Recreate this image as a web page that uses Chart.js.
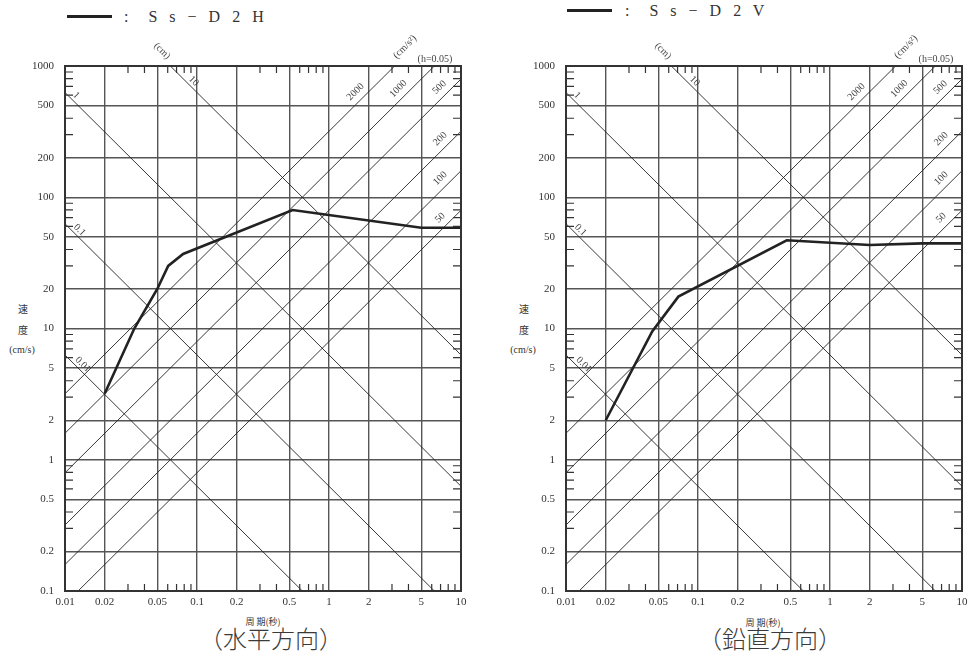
<!DOCTYPE html>
<html>
<head>
<meta charset="utf-8">
<script src="https://cdn.jsdelivr.net/npm/chart.js@4/dist/chart.umd.min.js"></script>
<style>
  html, body { margin: 0; padding: 0; background: #fff; overflow: hidden; }
  body { width: 968px; height: 657px; position: relative; }
  .panel { position: absolute; top: 0; width: 484px; height: 657px; }
  .panel canvas { position: absolute; left: 0; top: 0; }
  .txt { position: absolute; white-space: nowrap; color: #333; transform: translate(-50%, -50%); }
  .legline { position: absolute; width: 45px; border-top: 3px solid #222; }
  .legtxt { position: absolute; font: 16px "Liberation Serif", serif; letter-spacing: 4px; color: #333; transform: translateY(-50%); white-space: pre; }
  .jp { font-family: "Noto Sans CJK JP", sans-serif; }
  .sub { font-weight: 300; color: #3a3a3a; }
  .serif { font-family: "Liberation Serif", serif; }
</style>
</head>
<body>
<div class="panel" id="panelH" style="left:0">
  <div class="legline" style="left:67px;top:15px"></div>
  <div class="legtxt" style="left:124px;top:17px">:  S s − D 2 H</div>
  <div class="txt jp" style="left:23px;top:308px;font-size:10px">速</div>
  <div class="txt jp" style="left:23px;top:329px;font-size:10px">度</div>
  <div class="txt serif" style="left:22px;top:349px;font-size:10px">(cm/s)</div>
  <div class="txt jp" style="left:263px;top:621px;font-size:9px">周 期(秒)</div>
  <div class="txt jp sub" style="left:271px;top:637px;font-size:24px">（水平方向）</div>
  <canvas id="chartH"></canvas>
</div>
<div class="panel" id="panelV" style="left:501px">
  <div class="legline" style="left:66px;top:9px"></div>
  <div class="legtxt" style="left:124px;top:11px">:  S s − D 2 V</div>
  <div class="txt jp" style="left:23px;top:308px;font-size:10px">速</div>
  <div class="txt jp" style="left:23px;top:329px;font-size:10px">度</div>
  <div class="txt serif" style="left:22px;top:349px;font-size:10px">(cm/s)</div>
  <div class="txt jp" style="left:262px;top:622px;font-size:9px">周 期(秒)</div>
  <div class="txt jp sub" style="left:269px;top:637px;font-size:24px">（鉛直方向）</div>
  <canvas id="chartV"></canvas>
</div>
<script>
// axis ticks
const periodTicks = [0.01, 0.02, 0.05, 0.1, 0.2, 0.5, 1, 2, 5, 10];
const velocityTicks = [0.1, 0.2, 0.5, 1, 2, 5, 10, 20, 50, 100, 200, 500, 1000];
const minorSteps = [3, 4, 6, 7, 8, 9];

// tripartite guide lines: displacement (cm) and acceleration (cm/s2)
const dispLines = [0.01, 0.1, 1, 10];
const accLines = [50, 100, 200, 500, 1000, 2000];
// period where each guide label sits
const dispLabelAt = [0.0127, 0.012, 0.0113, 0.088];
const accLabelAt = [7.8, 7.8, 7.8, 7.7, 3.76, 1.78];

// Ss-D2H (horizontal)
const periodH = [0.02, 0.0335, 0.05, 0.0605, 0.0785, 0.53, 5, 10];
const velocityH = [3.2, 10, 20, 30, 37, 80, 58.5, 58.5];

// Ss-D2V (vertical)
const periodV = [0.02, 0.045, 0.071, 0.47, 2, 5, 10];
const velocityV = [2.0, 9.5, 17.5, 47, 43.3, 44.5, 44.5];

const TWO_PI = 2 * Math.PI;
const tMin = periodTicks[0], tMax = periodTicks[periodTicks.length - 1];

function guideDatasets() {
    const sets = [];
    dispLines.forEach(function (d) {
        sets.push({
            data: [{x: tMin, y: TWO_PI * d / tMin}, {x: tMax, y: TWO_PI * d / tMax}],
            borderColor: '#222', borderWidth: 0.9, pointRadius: 0
        });
    });
    accLines.forEach(function (a) {
        sets.push({
            data: [{x: tMin, y: a * tMin / TWO_PI}, {x: tMax, y: a * tMax / TWO_PI}],
            borderColor: '#222', borderWidth: 0.9, pointRadius: 0
        });
    });
    return sets;
}

function rotText(ctx, text, px, py, ang) {
    ctx.save();
    ctx.translate(px, py);
    ctx.rotate(ang);
    ctx.fillText(text, 0, 0);
    ctx.restore();
}

const guidePlugin = {
    id: 'guides',
    afterDatasetsDraw: function (chart) {
        const ctx = chart.ctx, a = chart.chartArea;
        const x = chart.scales.x, y = chart.scales.y;
        ctx.save();

        // minor ticks on the four edges
        ctx.strokeStyle = '#333';
        ctx.lineWidth = 1.2;
        ctx.beginPath();
        for (let k = -2; k < 1; k++) {
            minorSteps.forEach(function (m) {
                const px = x.getPixelForValue(m * Math.pow(10, k));
                ctx.moveTo(px, a.top); ctx.lineTo(px, a.top + 7);
                ctx.moveTo(px, a.bottom); ctx.lineTo(px, a.bottom - 7);
            });
        }
        for (let k = -1; k < 3; k++) {
            minorSteps.forEach(function (m) {
                const py = y.getPixelForValue(m * Math.pow(10, k));
                ctx.moveTo(a.left, py); ctx.lineTo(a.left + 8, py);
                ctx.moveTo(a.right, py); ctx.lineTo(a.right - 8, py);
            });
        }
        ctx.stroke();

        // frame
        ctx.lineWidth = 2;
        ctx.strokeStyle = '#333';
        ctx.strokeRect(a.left, a.top, a.right - a.left, a.bottom - a.top);

        // guide labels
        ctx.fillStyle = '#444';
        ctx.font = '10px "Liberation Serif", serif';
        ctx.textAlign = 'center';
        ctx.textBaseline = 'middle';
        dispLines.forEach(function (d, i) {
            const t = dispLabelAt[i];
            const px = x.getPixelForValue(t), py = y.getPixelForValue(TWO_PI * d / t);
            rotText(ctx, String(d), px + 4, py - 4, Math.PI / 4);
        });
        accLines.forEach(function (acc, i) {
            const t = accLabelAt[i];
            const px = x.getPixelForValue(t), py = y.getPixelForValue(acc * t / TWO_PI);
            rotText(ctx, String(acc), px - 6.5, py - 6.5, -Math.PI / 4);
        });

        // units
        rotText(ctx, '(cm)', a.left + 97, a.top - 15, Math.PI / 4);
        rotText(ctx, '(cm/s²)', a.left + 340, a.top - 19, -Math.PI / 4);
        ctx.fillText('(h=0.05)', a.right - 26, a.top - 7);
        ctx.restore();
    }
};

function createSpectrumChart(id, periods, velocities) {
    const points = periods.map(function (t, i) { return {x: t, y: velocities[i]}; });
    const datasets = guideDatasets();
    datasets.push({
        data: points, borderColor: '#222', borderWidth: 2.6, pointRadius: 0, tension: 0
    });
    const tickFont = {family: '"Liberation Serif", serif', size: 11};
    const edgeWidth = function (c) { return c.tick && (c.index === 0) ? 0 : 1.4; };

    return new Chart(document.getElementById(id).getContext('2d'), {
        type: 'line',
        data: {datasets: datasets},
        options: {
            responsive: true,
            maintainAspectRatio: false,
            animation: false,
            layout: {padding: {left: 0, top: 66, right: 23, bottom: 0}},
            plugins: {legend: {display: false}, tooltip: {enabled: false}},
            scales: {
                x: {
                    type: 'logarithmic', min: tMin, max: tMax,
                    afterBuildTicks: function (s) { s.ticks = periodTicks.map(function (v) { return {value: v}; }); },
                    afterFit: function (s) { s.height = 66; },
                    grid: {color: '#555', lineWidth: edgeWidth, drawTicks: false},
                    border: {display: false},
                    ticks: {
                        padding: 5, color: '#333', font: tickFont, maxRotation: 0, autoSkip: false,
                        callback: function (v) { return String(v); }
                    }
                },
                y: {
                    type: 'logarithmic', min: velocityTicks[0], max: velocityTicks[velocityTicks.length - 1],
                    afterBuildTicks: function (s) { s.ticks = velocityTicks.map(function (v) { return {value: v}; }); },
                    afterFit: function (s) { s.width = 65; },
                    grid: {color: '#555', lineWidth: edgeWidth, drawTicks: false},
                    border: {display: false},
                    ticks: {
                        padding: 11, color: '#333', font: tickFont, autoSkip: false,
                        callback: function (v) { return String(v); }
                    }
                }
            }
        },
        plugins: [guidePlugin]
    });
}

createSpectrumChart('chartH', periodH, velocityH);
createSpectrumChart('chartV', periodV, velocityV);
</script>
</body>
</html>
